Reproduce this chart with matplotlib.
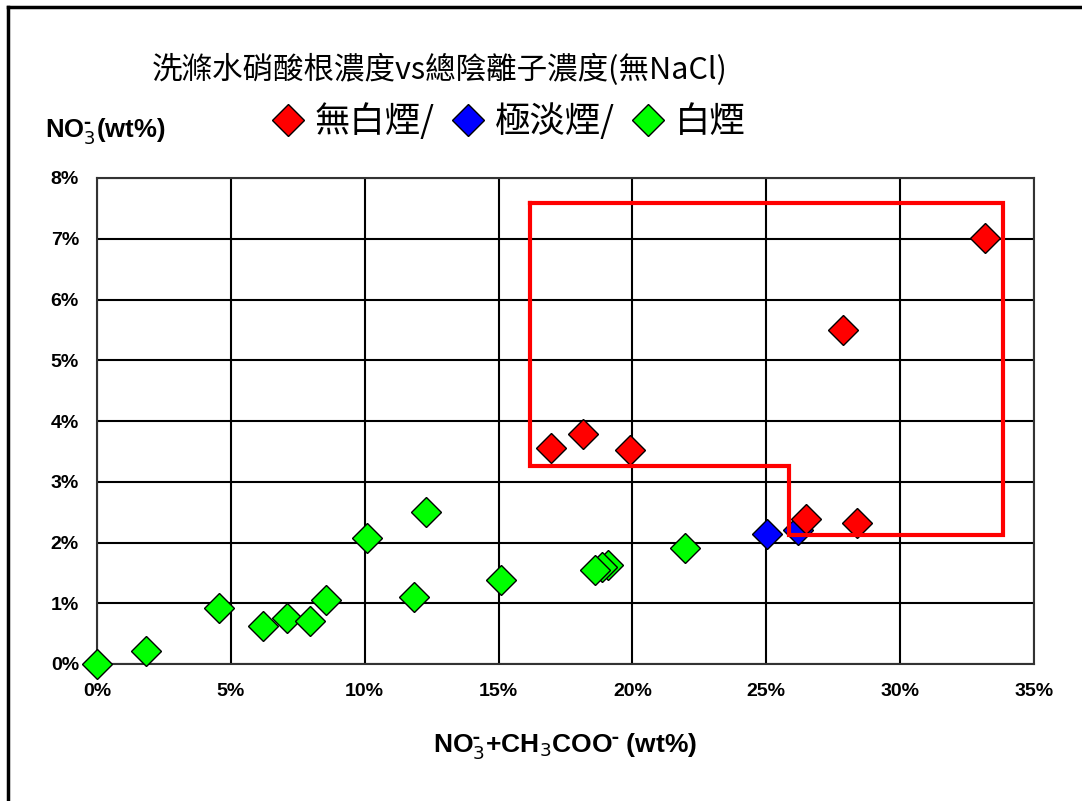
import numpy as np
import matplotlib.pyplot as plt
from matplotlib.lines import Line2D
from matplotlib.ticker import MultipleLocator, FuncFormatter

plt.rcParams['font.family'] = ['Liberation Sans', 'DejaVu Sans']

# total anions (x) and nitrate (y), wt%
x_none = [16.95, 18.15, 19.9, 26.48, 28.38, 27.86, 33.16]
y_none = [3.56, 3.79, 3.52, 2.39, 2.32, 5.50, 7.01]
x_faint = [25.02, 26.17]
y_faint = [2.14, 2.20]
x_white = [0.0, 1.83, 4.56, 6.2, 7.1, 7.95, 8.55, 10.08, 11.84, 12.29,
           15.09, 19.1, 18.85, 18.6, 21.96]
y_white = [0.0, 0.22, 0.92, 0.62, 0.76, 0.71, 1.05, 2.07, 1.11, 2.50,
           1.38, 1.63, 1.59, 1.55, 1.91]

# highlighted region outline
box_x = [16.17, 33.83, 33.83, 25.84, 25.84, 16.17, 16.17]
box_y = [7.59, 7.59, 2.12, 2.12, 3.26, 3.26, 7.59]

cjk = ['Noto Sans CJK TC', 'DejaVu Sans']

fig = plt.figure(figsize=(10.82, 8.01), dpi=100)
ax = fig.add_axes([97/1082, 1 - 664/801, (1034-97)/1082, (664-178)/801])

mk = dict(marker='D', ms=15, ls='', mec='black', mew=1.0, clip_on=False)
ax.plot(x_white, y_white, mfc='#00ff00', zorder=3, **mk)
ax.plot(x_faint, y_faint, mfc='#0000ff', zorder=4, **mk)
ax.plot(x_none, y_none, mfc='#ff0000', zorder=5, **mk)
ax.plot(box_x, box_y, color='#ff0000', lw=3, zorder=6,
        solid_joinstyle='miter')

ax.set_xlim(0, 35)
ax.set_ylim(0, 8)
ax.xaxis.set_major_locator(MultipleLocator(5))
ax.yaxis.set_major_locator(MultipleLocator(1))
pct = FuncFormatter(lambda v, p: f'{v:.0f}%')
ax.xaxis.set_major_formatter(pct)
ax.yaxis.set_major_formatter(pct)
ax.grid(True, color='black', lw=1.5)
ax.set_axisbelow(True)
for s in ax.spines.values():
    s.set_linewidth(1.5)
    s.set_color('#333333')
ax.tick_params(length=0, labelsize=14)
ax.tick_params(axis='x', pad=14)
ax.tick_params(axis='y', pad=13)
for lbl in ax.get_xticklabels() + ax.get_yticklabels():
    lbl.set_fontweight('bold')

ax.set_xlabel('NO$_3^{\\bf\\bar{\\ }}$+CH$_3$COO$^{\\bf\\bar{\\ }}$ (wt%)',
              fontsize=19, fontweight='bold', labelpad=22)
fig.text(45/1082, 1 - 132/801, 'NO$_3^{\\bf\\bar{\\ }}$(wt%)',
         fontsize=18.5, fontweight='bold', va='center', ha='left')

fig.text(440/1082, 1 - 70/801, '洗滌水硝酸根濃度vs總陰離子濃度(無NaCl)',
         family=cjk, fontsize=22, fontweight='light', ha='center', va='center')

handles = [Line2D([], [], marker='D', ms=16, ls='', mec='black', mfc=c)
           for c in ('#ff0000', '#0000ff', '#00ff00')]
leg = fig.legend(handles, ['無白煙/', '極淡煙/', '白煙'], ncol=3,
                 loc='center', bbox_to_anchor=(508/1082, 1 - 122/801),
                 frameon=False, columnspacing=0.45, handletextpad=0.25,
                 handlelength=1.0,
                 prop=dict(family=cjk, size=25.5, weight='light'))

# page border (left and top)
fig.add_artist(Line2D([8/1082, 8/1082], [0, 1 - 7/801], color='black', lw=2.5))
fig.add_artist(Line2D([8/1082, 1], [1 - 7/801, 1 - 7/801], color='black', lw=2.5))

fig.savefig('out.png', dpi=100)
